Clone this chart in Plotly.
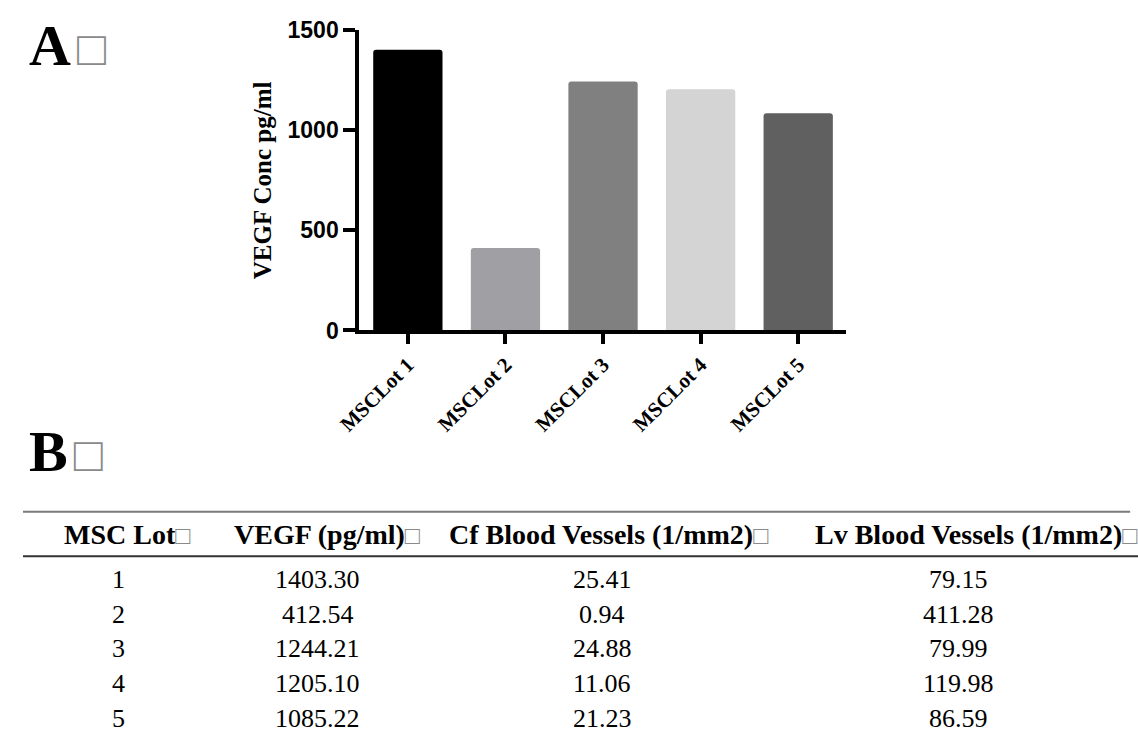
import plotly.graph_objects as go

# ---------------- data ----------------
lots = ["MSCLot 1", "MSCLot 2", "MSCLot 3", "MSCLot 4", "MSCLot 5"]
vegf = [1403.30, 412.54, 1244.21, 1205.10, 1085.22]
bar_colors = ["#000000", "#a0a0a4", "#808080", "#d4d4d4", "#606060"]
y_ticks = [0, 500, 1000, 1500]

table_header = ["MSC Lot", "VEGF (pg/ml)", "Cf Blood Vessels (1/mm2)", "Lv Blood Vessels (1/mm2)"]
lot_ids = ["1", "2", "3", "4", "5"]
cf_vessels = ["25.41", "0.94", "24.88", "11.06", "21.23"]
lv_vessels = ["79.15", "411.28", "79.99", "119.98", "86.59"]
vegf_text = [f"{v:.2f}" for v in vegf]

W, H = 1138, 740


def px(x):
    return x / W


def py(y):
    return 1 - y / H


fig = go.Figure()
fig.add_trace(go.Bar(
    x=list(range(len(lots))), y=vegf,
    marker=dict(color=bar_colors, line=dict(width=0), cornerradius=3),
    width=0.71, showlegend=False, hoverinfo="skip",
))

fig.update_layout(
    width=W, height=H,
    margin=dict(l=0, r=0, t=0, b=0),
    paper_bgcolor="white", plot_bgcolor="white",
    xaxis=dict(
        domain=[px(343), px(840)], range=[-0.5, 4.49],
        tickmode="array", tickvals=list(range(len(lots))), ticktext=lots,
        showline=True, linewidth=3.5, linecolor="black",
        ticks="outside", ticklen=10, tickwidth=3.5, tickcolor="black",
        tickangle=-45, showgrid=False, zeroline=False,
        tickfont=dict(family="Liberation Serif", size=21, color="black", weight="bold"),
    ),
    yaxis=dict(
        domain=[py(329), py(18)], range=[0, 1500],
        tickmode="array", tickvals=y_ticks,
        showline=True, linewidth=3.5, linecolor="black",
        ticks="outside", ticklen=12, tickwidth=3.5, tickcolor="black",
        showgrid=False, zeroline=False,
        tickfont=dict(family="Liberation Sans", size=23, color="black", weight="bold"),
        title=dict(text="VEGF Conc pg/ml", standoff=10,
                   font=dict(family="Liberation Serif", size=25, color="black", weight="bold")),
    ),
)

annotations = []
# panel labels
for lab, y in [("A", 57), ("B", 478)]:
    annotations.append(dict(
        text=f"<b>{lab}</b>" + "<span style='font-size:24px'> </span>"
             + "<span style='color:#8a8a8a;font-size:48px'>□</span>",
        x=px(4), y=py(y), xref="paper", yref="paper",
        xanchor="left", yanchor="bottom", yshift=-12, showarrow=False,
        font=dict(family="Liberation Serif", size=58, color="black"),
    ))

# table header
header_x = [40, 213, 433, 806]
for t, x in zip(table_header, header_x):
    annotations.append(dict(
        text=f"<b>{t}</b>" + "<span style='color:#8a8a8a;font-size:25px'>□</span>",
        x=px(x), y=py(540), xref="paper", yref="paper",
        xanchor="left", yanchor="middle", showarrow=False,
        font=dict(family="Liberation Serif", size=28, color="black"),
    ))

# table body
col_x = [97, 301, 591, 955]
row_y = [587, 623, 659, 695, 731]
columns = [lot_ids, vegf_text, cf_vessels, lv_vessels]
for cx, col in zip(col_x, columns):
    for ry, val in zip(row_y, col):
        annotations.append(dict(
            text=val, x=px(cx), y=py(ry), xref="paper", yref="paper",
            xanchor="center", yanchor="middle", showarrow=False,
            font=dict(family="Liberation Serif", size=26, color="black"),
        ))

fig.update_layout(annotations=annotations)

# table rules
fig.add_shape(type="line", xref="paper", yref="paper",
              x0=0, x1=px(1130), y0=py(517), y1=py(517),
              line=dict(color="#7a7a7a", width=2))
fig.add_shape(type="line", xref="paper", yref="paper",
              x0=0, x1=px(1138), y0=py(563), y1=py(563),
              line=dict(color="#333333", width=2))

fig.write_html("out.html")
